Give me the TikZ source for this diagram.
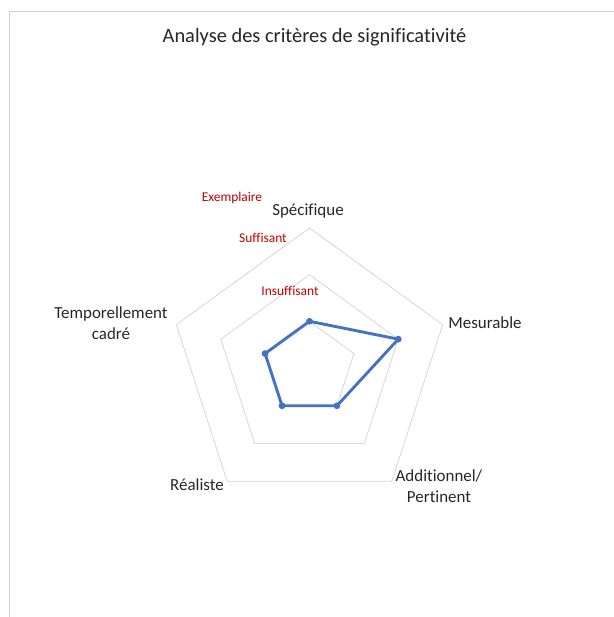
\documentclass[tikz,border=0pt]{standalone}
\usepackage{fontspec}
\setmainfont{Carlito}[Ligatures=NoCommon]
\usetikzlibrary{positioning}
\definecolor{gridgray}{HTML}{D9D9D9}
\definecolor{framegray}{HTML}{D0D0D0}
\definecolor{textgray}{HTML}{262626}
\definecolor{serieblue}{HTML}{4472C4}
\definecolor{levelred}{HTML}{C00000}

\begin{document}
\begin{tikzpicture}[x=1bp, y=1bp,
    every node/.style={font=\fontsize{17}{21}\selectfont, text=textgray, align=center, inner sep=0pt},
    gridline/.style={draw=gridgray, line width=0.9bp},
    serie/.style={draw=serieblue, line width=2.9bp, line join=round},
    level/.style={font=\fontsize{13.5}{16}\selectfont, text=levelred}]
  \useasboundingbox (0,0) rectangle (614,-617);
  \draw[framegray, line width=1bp] (9,-617) -- (9,-12) -- (614,-12);
  \node[font=\fontsize{20.5}{24}\selectfont] (title) at (314.5,-37) {Analyse des critères de significativité};

  \begin{scope}[shift={(309.5,-368)}]
    % grid
    \foreach \r in {46.7,93.3,140}
      \draw[gridline] (90:\r) -- (18:\r) -- (-54:\r) -- (-126:\r) -- (162:\r) -- cycle;

    % values
    \coordinate (spe) at (90:46.7);
    \coordinate (mes) at (18:93.3);
    \coordinate (add) at (-54:46.7);
    \coordinate (rea) at (-126:46.7);
    \coordinate (tem) at (162:46.7);
    \draw[serie] (spe) -- (mes) -- (add) -- (rea) -- (tem) -- cycle;
    \foreach \p in {spe,mes,add,rea,tem}
      \fill[serieblue] (\p) circle (3.4bp);

    % axes
    \node (specifique) at (-1.5,157) {Spécifique};
    \node (mesurable) at (175.5,45) {Mesurable};
    \node (additionnel) at (129.5,-118) {Additionnel/\\Pertinent};
    \node (realiste) at (-112.5,-117) {Réaliste};
    \node (temporel) at (-198.5,45) {Temporellement\\cadré};

    % levels
    \node[level] (exemplaire) at (-77.5,170) {Exemplaire};
    \node[level] (suffisant) at (-46.5,130) {Suffisant};
    \node[level] (insuffisant) at (-19.5,77) {Insuffisant};
  \end{scope}
\end{tikzpicture}
\end{document}
